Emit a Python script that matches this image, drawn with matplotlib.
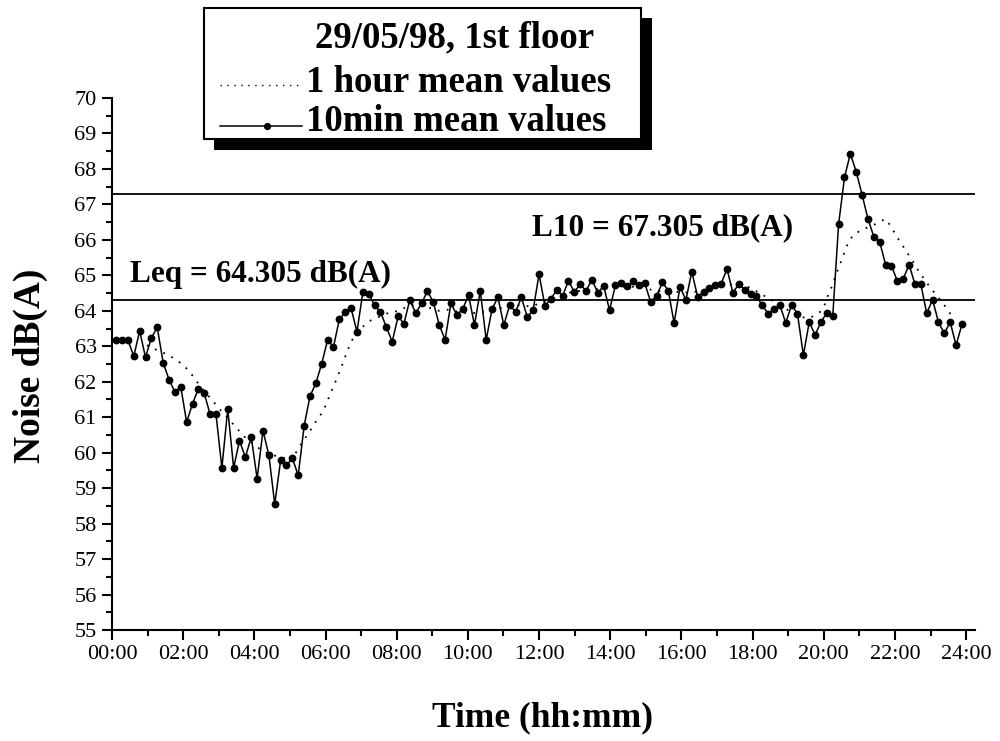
#!/usr/bin/env python3
"""Noise level on the 1st floor, 29/05/98: 10 min and 1 hour mean values."""

import numpy as np
import matplotlib
matplotlib.use('Agg')
import matplotlib.pyplot as plt
from matplotlib.patches import Rectangle
from matplotlib.lines import Line2D
from matplotlib.ticker import MultipleLocator

# 10 min mean values (dB(A)), first sample just after 00:00, last just before 24:00
ten_min_values = [
    63.18, 63.18, 63.18, 62.72, 63.43, 62.69, 63.24, 63.53, 62.54, 62.06,
    61.71, 61.86, 60.86, 61.38, 61.80, 61.67, 61.08, 61.08, 59.57, 61.23,
    59.57, 60.34, 59.87, 60.44, 59.27, 60.62, 59.93, 58.55, 59.78, 59.65,
    59.84, 59.36, 60.75, 61.59, 61.96, 62.51, 63.18, 62.98, 63.76, 63.96,
    64.07, 63.41, 64.52, 64.48, 64.15, 63.97, 63.54, 63.13, 63.84, 63.64,
    64.31, 63.93, 64.21, 64.56, 64.24, 63.61, 63.18, 64.21, 63.88, 64.05,
    64.44, 63.60, 64.56, 63.18, 64.05, 64.38, 63.60, 64.16, 63.97, 64.38,
    63.82, 64.03, 65.03, 64.14, 64.33, 64.59, 64.41, 64.85, 64.53, 64.75,
    64.56, 64.88, 64.51, 64.70, 64.02, 64.72, 64.78, 64.69, 64.83, 64.72,
    64.78, 64.25, 64.42, 64.80, 64.57, 63.65, 64.68, 64.30, 65.10, 64.40,
    64.53, 64.64, 64.72, 64.76, 65.18, 64.51, 64.75, 64.59, 64.46, 64.41,
    64.16, 63.92, 64.04, 64.16, 63.66, 64.17, 63.91, 62.75, 63.68, 63.32,
    63.68, 63.95, 63.85, 66.44, 67.76, 68.43, 67.92, 67.27, 66.59, 66.09,
    65.94, 65.30, 65.27, 64.84, 64.90, 65.30, 64.75, 64.75, 63.93, 64.31,
    63.68, 63.36, 63.68, 63.03, 63.62,
]
ten_min_times = np.linspace(7, 1433, len(ten_min_values)) / 60.0  # hours

# 1 hour mean values
hour_times = [
    0.98, 1.27, 1.57, 1.84, 2.08, 2.29, 2.47, 2.89, 3.09, 3.32,
    3.53, 3.76, 4.25, 4.53, 4.87, 5.05, 5.22, 5.55, 5.71, 5.89,
    6.01, 6.11, 6.22, 6.32, 6.43, 6.52, 6.61, 6.73, 6.83, 7.23,
    7.51, 7.79, 8.07, 8.33, 8.64, 8.91, 9.19, 9.50, 9.78, 10.06,
    10.34, 10.62, 10.91, 11.19, 11.47, 11.75, 12.03, 12.31, 12.54, 12.96,
    13.72, 14.00, 14.28, 14.84, 15.12, 15.40, 15.77, 16.25, 16.53, 16.81,
    17.09, 17.37, 17.65, 17.93, 18.21, 18.49, 18.77, 19.05, 19.34, 19.62,
    19.90, 20.04, 20.13, 20.25, 20.32, 20.43, 20.52, 20.61, 20.72, 20.88,
    21.16, 21.44, 21.73, 21.89, 22.03, 22.19, 22.35, 22.50, 22.66, 22.83,
    23.01, 23.21, 23.41, 23.58,
]
hour_values = [
    63.03, 62.89, 62.76, 62.60, 62.39, 62.14, 61.88, 61.39, 61.15, 60.90,
    60.66, 60.41, 60.03, 59.93, 59.84, 59.77, 60.10, 60.59, 60.85, 61.11,
    61.34, 61.60, 61.86, 62.10, 62.38, 62.61, 62.87, 63.13, 63.36, 63.71,
    63.83, 63.95, 64.00, 64.14, 64.18, 64.09, 64.00, 64.04, 63.95, 63.93,
    63.95, 64.02, 64.07, 64.12, 64.16, 64.12, 64.21, 64.30, 64.42, 64.54,
    64.62, 64.66, 64.68, 64.68, 64.60, 64.55, 64.54, 64.51, 64.56, 64.63,
    64.70, 64.74, 64.70, 64.66, 64.49, 64.33, 64.18, 63.98, 63.82, 63.80,
    63.97, 64.20, 64.47, 64.73, 64.96, 65.24, 65.48, 65.73, 65.99, 66.18,
    66.32, 66.44, 66.59, 66.38, 66.12, 65.88, 65.63, 65.40, 65.13, 64.88,
    64.63, 64.39, 64.13, 63.88,
]

leq = 64.305
l10 = 67.305

x_ticks = list(range(0, 25, 2))
x_tick_labels = [f'{h:02d}:00' for h in x_ticks]

plt.rcParams['font.family'] = ['Liberation Serif', 'DejaVu Serif']

W, H = 1000, 741


def fx(px):
    return px / W


def fy(py):
    return 1 - py / H


fig = plt.figure(figsize=(10, 7.41), dpi=100)
ax = fig.add_axes([fx(112), fy(630), fx(975) - fx(112), fy(98) - fy(630)])

dotted = (0, (1, 4))
ax.plot(hour_times, hour_values, color='black', lw=1.3, linestyle=dotted)
ax.plot(ten_min_times, ten_min_values, color='black', lw=1.1,
        marker='o', markersize=4.6)
ax.axhline(leq, color='black', lw=1.3)
ax.axhline(l10, color='black', lw=1.3)

ax.text(0.5, 64.81, f'Leq = {leq:.3f} dB(A)', fontsize=22.5, fontweight='bold',
        va='baseline', ha='left')
ax.text(11.8, 66.12, f'L10 = {l10:.3f} dB(A)', fontsize=22.5, fontweight='bold',
        va='baseline', ha='left')

ax.set_xlim(0, 24.25)
ax.set_ylim(55, 70)
ax.set_xticks(x_ticks)
ax.set_xticklabels(x_tick_labels)
ax.xaxis.set_minor_locator(MultipleLocator(1))
ax.yaxis.set_major_locator(MultipleLocator(1))
ax.yaxis.set_minor_locator(MultipleLocator(0.5))
ax.tick_params(which='major', direction='out', length=7, width=1.5,
               labelsize=16, pad=4)
ax.tick_params(which='minor', direction='out', length=4, width=1.5)
for side in ['top', 'right']:
    ax.spines[side].set_visible(False)
for side in ['left', 'bottom']:
    ax.spines[side].set_linewidth(1.5)

fig.text(fx(30), fy(366), 'Noise dB(A)', fontsize=27, fontweight='bold',
         rotation=90, ha='center', va='center')
fig.text(fx(542), fy(718), 'Time (hh:mm)', fontsize=25.5, fontweight='bold',
         ha='center', va='center')

# legend box with a solid black drop shadow
fig.add_artist(Rectangle((fx(214), fy(150)), fx(652) - fx(214), fy(18) - fy(150),
                         transform=fig.transFigure, facecolor='black',
                         edgecolor='black', lw=0, zorder=5))
fig.add_artist(Rectangle((fx(204), fy(139)), fx(641) - fx(204), fy(8) - fy(139),
                         transform=fig.transFigure, facecolor='white',
                         edgecolor='black', lw=1.5, zorder=6))
fig.text(fx(455), fy(47), '29/05/98, 1st floor', fontsize=26.5, fontweight='bold',
         ha='center', va='baseline', zorder=7)
fig.text(fx(306), fy(92), '1 hour mean values', fontsize=26.5, fontweight='bold',
         ha='left', va='baseline', zorder=7)
fig.text(fx(306), fy(131), '10min mean values', fontsize=26.5, fontweight='bold',
         ha='left', va='baseline', zorder=7)
fig.add_artist(Line2D([fx(220), fx(298)], [fy(85), fy(85)],
                      transform=fig.transFigure, color='black', lw=1.0,
                      linestyle=dotted, zorder=7))
fig.add_artist(Line2D([fx(220), fx(302)], [fy(126), fy(126)],
                      transform=fig.transFigure, color='black', lw=1.1, zorder=7))
fig.add_artist(Line2D([fx(267)], [fy(126)], transform=fig.transFigure,
                      color='black', marker='o', markersize=4.2, zorder=7))

fig.savefig('out.png', dpi=100)
